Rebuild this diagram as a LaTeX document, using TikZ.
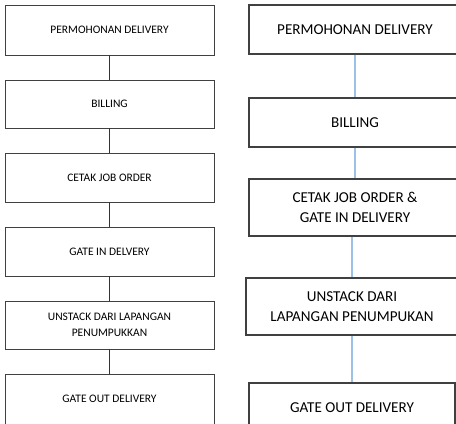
\documentclass[tikz,border=0pt]{standalone}
\usepackage{fontspec}
\setmainfont{Carlito}
\usetikzlibrary{positioning}

\begin{document}
\begin{tikzpicture}[x=0.03cm, y=-0.03cm,
    leftbox/.style={draw=black!75, line width=0.6pt, rectangle, minimum width=209*0.03cm,
      align=center, font=\fontsize{9.8}{13.5}\selectfont, inner sep=0pt},
    rightbox/.style={draw=black!75, line width=0.9pt, rectangle, minimum width=212*0.03cm,
      align=center, font=\fontsize{12.9}{17.5}\selectfont, inner sep=0pt},
    leftline/.style={draw=black!80, line width=0.6pt},
    rightline/.style={draw={rgb,255:red,155;green,194;blue,230}, line width=1.1pt}]
  \useasboundingbox (0,0) rectangle (456,423);
  \clip (0,0) rectangle (456,423);

  % Left flow
  \node [leftbox, minimum height=50*0.03cm] (l1) at (109.5,30) {PERMOHONAN DELIVERY};
  \node [leftbox, minimum height=48*0.03cm] (l2) at (109.5,104) {BILLING};
  \node [leftbox, minimum height=49*0.03cm] (l3) at (109.5,177.5) {CETAK JOB ORDER};
  \node [leftbox, minimum height=49*0.03cm] (l4) at (109.5,251.5) {GATE IN DELVERY};
  \node [leftbox, minimum height=48*0.03cm] (l5) at (109.5,325) {UNSTACK DARI LAPANGAN\\PENUMPUKKAN};
  \node [leftbox, minimum height=50*0.03cm] (l6) at (109.5,399) {GATE OUT DELIVERY};

  \foreach \a/\b in {l1/l2, l2/l3, l3/l4, l4/l5, l5/l6}
    \draw [leftline] (\a) -- (\b);

  % Right flow
  \node [rightbox, minimum height=49*0.03cm] (r1) at (355,29.5) {PERMOHONAN DELIVERY};
  \node [rightbox, minimum height=49*0.03cm] (r2) at (355,122.5) {BILLING};
  \node [rightbox, minimum height=57*0.03cm] (r3) at (355,207.5) {CETAK JOB ORDER \&\\GATE IN DELIVERY};
  \node [rightbox, minimum height=57*0.03cm] (r4) at (352,306.5) {UNSTACK DARI\\LAPANGAN PENUMPUKAN};
  \node [rightbox, minimum height=50*0.03cm, minimum width=206*0.03cm] (r5) at (352,408) {GATE OUT DELIVERY};

  \foreach \a/\b in {r1/r2, r2/r3, r4/r5}
    \draw [rightline] (\a) -- (\b);
  \draw [rightline] (r3.south -| r4) -- (r4);
\end{tikzpicture}
\end{document}
